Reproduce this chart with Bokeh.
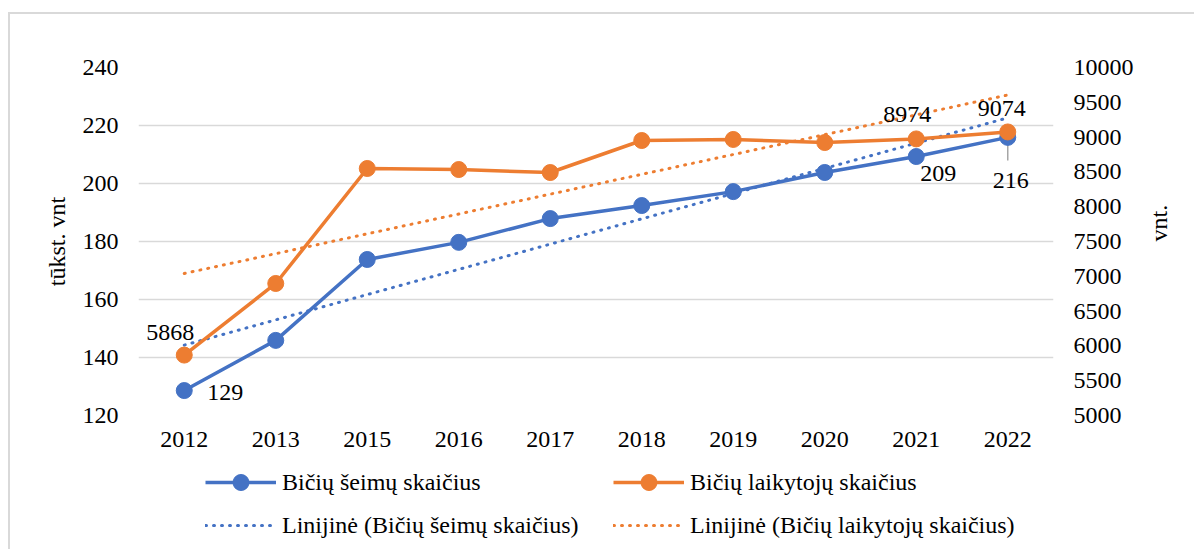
import numpy as np
from bokeh.plotting import figure
from bokeh.layouts import column
from bokeh.models import (Range1d, FactorRange, LinearAxis, FixedTicker, Legend,
                          LegendItem, ColumnDataSource)
from bokeh.core.properties import value
from bokeh.embed import file_html
from bokeh.resources import INLINE

# ---------------- data ----------------
years = ["2012", "2013", "2015", "2016", "2017", "2018", "2019", "2020", "2021", "2022"]
seimos = [128.6, 145.9, 173.8, 179.7, 187.9, 192.4, 197.2, 203.8, 209.3, 215.9]   # tūkst. vnt
laikytojai = [5868, 6897, 8549, 8534, 8491, 8951, 8966, 8922, 8974, 9074]          # vnt.
left_ticks = [120, 140, 160, 180, 200, 220, 240]
right_ticks = [5000, 5500, 6000, 6500, 7000, 7500, 8000, 8500, 9000, 9500, 10000]
seimos_label_years = ["2012", "2021", "2022"]
laik_label_years = ["2012", "2021", "2022"]
name_seimos = "Bičių šeimų skaičius"
name_laik = "Bičių laikytojų skaičius"
trend_word = "Linijinė"
left_title = "tūkst. vnt"
right_title = "vnt."

# ---------------- styles ----------------
BLUE = "#4472C4"
ORANGE = "#ED7D31"
GRID = "#d9d9d9"
FONT = "Liberation Serif"
FS = "24px"
LW = 3.5
TREND_DASH = "1 7"

# linear trendlines (least squares, like Excel "Linijinė")
xi = np.arange(1, len(years) + 1)
trend_s = np.polyval(np.polyfit(xi, seimos, 1), xi)
trend_l = np.polyval(np.polyfit(xi, laikytojai, 1), xi)

W = 1184
p = figure(x_range=FactorRange(*years), y_range=Range1d(left_ticks[0], left_ticks[-1]),
           width=W, height=446, output_backend="svg", toolbar_location=None,
           min_border_left=128, min_border_right=141, min_border_top=53, min_border_bottom=45)
p.extra_y_ranges = {"right": Range1d(right_ticks[0], right_ticks[-1])}
p.outline_line_color = None
p.xgrid.grid_line_color = None
p.ygrid.grid_line_color = GRID
p.ygrid.grid_line_width = 1.5
p.ygrid.ticker = FixedTicker(ticks=left_ticks)

rax = LinearAxis(y_range_name="right", ticker=FixedTicker(ticks=right_ticks))
p.add_layout(rax, "right")

for ax in [p.xaxis[0], p.yaxis[0], rax]:
    ax.axis_line_color = None
    ax.major_tick_line_color = None
    ax.minor_tick_line_color = None
    ax.major_tick_out = 0
    ax.major_tick_in = 0
    ax.major_label_text_font = FONT
    ax.major_label_text_font_size = FS
    ax.major_label_text_color = "black"
    ax.axis_label_text_font = FONT
    ax.axis_label_text_font_size = FS
    ax.axis_label_text_font_style = "normal"
    ax.axis_label_text_color = "black"
p.yaxis[0].ticker = FixedTicker(ticks=left_ticks)
p.yaxis[0].major_label_standoff = 20
p.xaxis[0].major_label_standoff = 16
rax.major_label_standoff = 20

p.yaxis[0].axis_label = left_title
p.yaxis[0].axis_label_standoff = 10
rax.axis_label = right_title
rax.axis_label_standoff = 22
try:
    rax.axis_label_orientation = np.pi / 2
except Exception:
    pass

# trendlines
tr_s = p.line(years, trend_s, line_color=BLUE, line_width=3, line_dash=TREND_DASH, line_cap="round")
tr_l = p.line(years, trend_l, line_color=ORANGE, line_width=3, line_dash=TREND_DASH, line_cap="round",
              y_range_name="right")

# leader line for 2022 label of blue series
i22 = years.index("2022")
p.segment(x0=[years[i22]], y0=[seimos[i22]], x1=[years[i22]], y1=[seimos[i22] - 8],
          line_color="#a6a6a6", line_width=1.5)

# series
p.line(years, seimos, line_color=BLUE, line_width=LW)
p.scatter(years, seimos, size=16, fill_color=BLUE, line_color=BLUE)
p.line(years, laikytojai, line_color=ORANGE, line_width=LW, y_range_name="right")
p.scatter(years, laikytojai, size=16, fill_color=ORANGE, line_color=ORANGE, y_range_name="right")

# data labels
s_off = {"2012": (41, 2), "2021": (22, 17), "2022": (3, 43)}
l_off = {"2012": (-14, -23), "2021": (-9, -24), "2022": (-6, -23)}
src_s = ColumnDataSource(dict(
    x=seimos_label_years,
    y=[seimos[years.index(y)] for y in seimos_label_years],
    t=[str(int(round(seimos[years.index(y)]))) for y in seimos_label_years],
    dx=[s_off[y][0] for y in seimos_label_years],
    dy=[s_off[y][1] for y in seimos_label_years]))
src_l = ColumnDataSource(dict(
    x=laik_label_years,
    y=[laikytojai[years.index(y)] for y in laik_label_years],
    t=[str(int(round(laikytojai[years.index(y)]))) for y in laik_label_years],
    dx=[l_off[y][0] for y in laik_label_years],
    dy=[l_off[y][1] for y in laik_label_years]))
for src, rn in [(src_s, "default"), (src_l, "right")]:
    p.text(x="x", y="y", text="t", x_offset="dx", y_offset="dy", source=src,
           text_align="center", text_baseline="middle", text_font=value(FONT),
           text_font_size=value(FS), text_color="black", y_range_name=rn)

# ---------------- legend strip (separate canvas below the chart) ----------------
lf = figure(width=W, height=89, x_range=Range1d(0, 1), y_range=Range1d(0, 1),
            output_backend="svg", toolbar_location=None, min_border=0,
            x_axis_location=None, y_axis_location=None)
lf.outline_line_color = None
lf.grid.visible = False
nan = [np.nan]
e_s_l = lf.line(nan, nan, line_color=BLUE, line_width=LW)
e_s_m = lf.scatter(nan, nan, size=16, fill_color=BLUE, line_color=BLUE)
e_s_t = lf.line(nan, nan, line_color=BLUE, line_width=3, line_dash=TREND_DASH, line_cap="round")
e_l_l = lf.line(nan, nan, line_color=ORANGE, line_width=LW)
e_l_m = lf.scatter(nan, nan, size=16, fill_color=ORANGE, line_color=ORANGE)
e_l_t = lf.line(nan, nan, line_color=ORANGE, line_width=3, line_dash=TREND_DASH, line_cap="round")


def make_legend(items, loc):
    lg = Legend(items=items, location=loc, orientation="vertical",
                glyph_width=71, glyph_height=40, label_height=40, label_standoff=6,
                spacing=3, padding=0, margin=0, border_line_color=None,
                background_fill_alpha=0, label_text_font=FONT, label_text_font_size=FS,
                label_text_color="black")
    lf.add_layout(lg, "center")


# positions relative to the (column-aligned) plot frame
make_legend([LegendItem(label=name_seimos, renderers=[e_s_l, e_s_m]),
             LegendItem(label=f"{trend_word} ({name_seimos})", renderers=[e_s_t])], (67, 4))
make_legend([LegendItem(label=name_laik, renderers=[e_l_l, e_l_m]),
             LegendItem(label=f"{trend_word} ({name_laik})", renderers=[e_l_t])], (475, 4))

layout = column(p, lf, spacing=0,
                styles={"border-top": "2px solid #d9d9d9", "border-left": "2px solid #d9d9d9",
                        "margin-top": "12px", "margin-left": "8px"})

open("out.html", "w").write(file_html(layout, INLINE))
